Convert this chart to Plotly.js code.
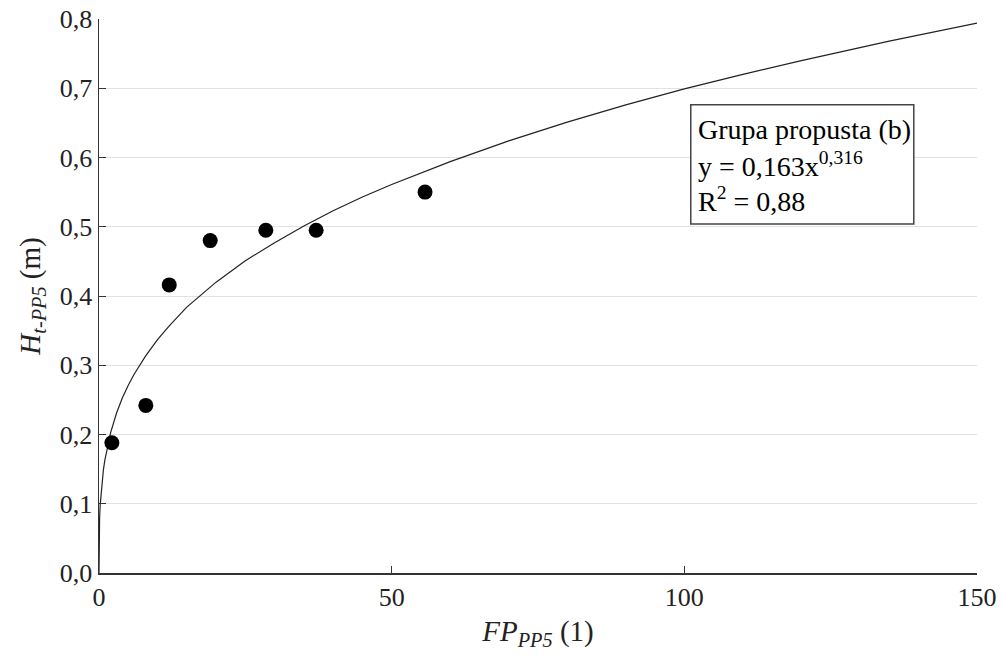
<!DOCTYPE html>
<html>
<head>
<meta charset="utf-8">
<script src="https://cdn.plot.ly/plotly-3.0.1.min.js"></script>
<style>html,body{margin:0;padding:0;background:#fff;}#chart{width:1003px;height:664px;}</style>
</head>
<body>
<div id="chart"></div>
<script>
// Observed points
var pointsX = [2.2, 8.0, 12.0, 19.0, 28.5, 37.1, 55.7];
var pointsY = [0.188, 0.242, 0.416, 0.480, 0.495, 0.495, 0.550];

// Fitted power curve (y = 0,163x^0,316)
var curveX = [0, 0.001, 0.005, 0.02, 0.05, 0.1, 0.2, 0.5, 0.75, 1, 1.5, 2, 3, 4, 5, 6, 8, 10, 12, 15, 20, 25, 30, 35, 40, 45, 50, 60, 70, 80, 90, 100, 110, 120, 135, 150];
var curveY = [0, 0.018, 0.031, 0.047, 0.063, 0.079, 0.098, 0.131, 0.149, 0.163, 0.185, 0.203, 0.231, 0.253, 0.271, 0.287, 0.314, 0.337, 0.357, 0.384, 0.420, 0.451, 0.477, 0.501, 0.523, 0.543, 0.561, 0.594, 0.624, 0.651, 0.676, 0.699, 0.720, 0.740, 0.768, 0.794];

var xTicks = [0, 50, 100, 150];
var yTicks = [0, 0.1, 0.2, 0.3, 0.4, 0.5, 0.6, 0.7, 0.8];

var boxLines = ['Grupa propusta (b)', 'y = 0,163x<sup>0,316</sup>', 'R<sup>2</sup> = 0,88'];

var serif = 'Liberation Serif';

var traces = [
  {x: curveX, y: curveY, mode: 'lines', line: {color: '#222', width: 1.2}, hoverinfo: 'skip', showlegend: false},
  {x: pointsX, y: pointsY, mode: 'markers', marker: {color: '#000', size: 15}, showlegend: false}
];

var annotations = boxLines.map(function (t, i) {
  return {xref: 'paper', yref: 'paper', x: 0.680, y: [0.800, 0.738, 0.675][i],
    xanchor: 'left', yanchor: 'middle', showarrow: false, text: t, align: 'left',
    font: {family: serif, size: 28, color: '#000'}};
});

var layout = {
  width: 1003, height: 664,
  margin: {l: 99, r: 26, t: 19, b: 91},
  paper_bgcolor: '#fff', plot_bgcolor: '#fff',
  separators: ', ',
  font: {family: serif, color: '#222', size: 26},
  xaxis: {range: [0, 150], tickvals: xTicks, ticks: 'inside', ticklen: 7, tickcolor: '#333',
    showgrid: false, zeroline: false, showline: true, linecolor: '#333', linewidth: 1.5,
    tickfont: {family: serif, size: 26, color: '#222'},
    title: {text: '<i>FP</i><sub><i>PP5</i></sub> (1)', font: {family: serif, size: 29, color: '#222'}, standoff: 10}},
  yaxis: {range: [0, 0.8], tickvals: yTicks, tickformat: '.1f', ticks: 'inside', ticklen: 7, tickcolor: '#333',
    showgrid: true, gridcolor: '#e2e2e2', gridwidth: 1, zeroline: false, showline: true, linecolor: '#333', linewidth: 1.5,
    tickfont: {family: serif, size: 26, color: '#222'},
    title: {text: '<i>H</i><sub><i>t-PP5</i></sub> (m)', font: {family: serif, size: 29, color: '#222'}, standoff: 10}},
  shapes: [{type: 'rect', xref: 'paper', yref: 'paper', x0: 0.674, x1: 0.928, y0: 0.630, y1: 0.845,
    line: {color: '#444', width: 1.5}, fillcolor: '#fff', layer: 'above'}],
  annotations: annotations
};

Plotly.newPlot('chart', traces, layout, {displayModeBar: false, staticPlot: true});
</script>
</body>
</html>
